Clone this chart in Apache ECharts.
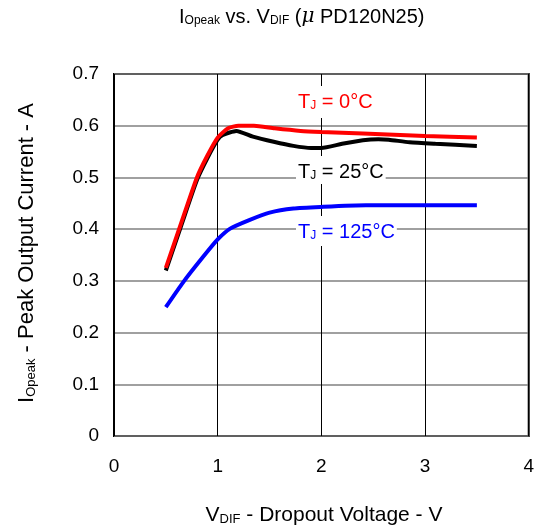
<!DOCTYPE html>
<html>
<head>
<meta charset="utf-8">
<script src="https://cdn.jsdelivr.net/npm/echarts@6/dist/echarts.min.js"></script>
<style>html,body{margin:0;padding:0;background:#fff;}#c{width:537px;height:525px;}</style>
</head>
<body>
<div id="c"></div>
<script>
// Data (V_DIF in V, I_Opeak in A)
var xRed   = [0.5, 0.65, 0.8, 0.9, 1.0, 1.1, 1.2, 1.35, 1.55, 1.8, 2.0, 2.4, 3.0, 3.5];
var yRed   = [0.325, 0.413, 0.500, 0.542, 0.577, 0.595, 0.600, 0.600, 0.595, 0.590, 0.588, 0.585, 0.580, 0.577];
var xBlack = [0.5, 0.65, 0.8, 0.9, 1.0, 1.05, 1.18, 1.34, 1.54, 1.73, 1.9, 2.0, 2.2, 2.4, 2.55, 2.65, 2.85, 3.1, 3.5];
var yBlack = [0.320, 0.408, 0.495, 0.537, 0.573, 0.582, 0.590, 0.579, 0.569, 0.561, 0.557, 0.557, 0.565, 0.572, 0.574, 0.573, 0.568, 0.565, 0.561];
var xBlue  = [0.5, 0.67, 0.85, 1.0, 1.12, 1.31, 1.5, 1.73, 2.0, 2.43, 3.0, 3.5];
var yBlue  = [0.249, 0.298, 0.344, 0.380, 0.401, 0.418, 0.432, 0.440, 0.443, 0.446, 0.446, 0.446];
var xTicks = [0, 1, 2, 3, 4];
var yTicks = [0, 0.1, 0.2, 0.3, 0.4, 0.5, 0.6, 0.7];

function pairs(xs, ys) { return xs.map(function (x, i) { return [x, ys[i]]; }); }

var FONT = '"Liberation Sans", Arial, sans-serif';
var chart = echarts.init(document.getElementById('c'), null, {renderer: 'canvas'});

function richSet(size, sub, color) {
  return {
    m: {fontSize: size, fontFamily: FONT, fill: color, color: color, lineHeight: size + 4, verticalAlign: 'bottom'},
    s: {fontSize: sub, fontFamily: FONT, fill: color, color: color, lineHeight: sub, verticalAlign: 'bottom'},
    g: {fontSize: size, fontFamily: '"DejaVu Serif", serif', fontStyle: 'italic', fill: color, color: color, lineHeight: size + 4, verticalAlign: 'bottom'}
  };
}

var option = {
  animation: false,
  backgroundColor: '#ffffff',
  grid: {left: 114, right: 8, top: 74, bottom: 89, show: true, borderColor: '#000', borderWidth: 2, backgroundColor: 'transparent'},
  xAxis: {
    type: 'value', min: xTicks[0], max: xTicks[xTicks.length - 1], interval: 1,
    axisLine: {show: false}, axisTick: {show: false},
    axisLabel: {color: '#000', fontSize: 19, fontFamily: FONT, margin: 21},
    splitLine: {show: true, lineStyle: {color: '#000', width: 1}}
  },
  yAxis: {
    type: 'value', min: yTicks[0], max: yTicks[yTicks.length - 1], interval: 0.1,
    axisLine: {show: false}, axisTick: {show: false},
    axisLabel: {color: '#000', fontSize: 19, fontFamily: FONT, margin: 15,
      formatter: function (v) { return String(Math.round(v * 10) / 10); }},
    splitLine: {show: true, lineStyle: {color: '#808080', width: 1.5}}
  },
  series: [
    {type: 'line', data: pairs(xBlue, yBlue), showSymbol: false, smooth: 0.2,
      lineStyle: {color: '#0000ff', width: 4}, z: 3},
    {type: 'line', data: pairs(xBlack, yBlack), showSymbol: false, smooth: 0.2,
      lineStyle: {color: '#000000', width: 4}, z: 3},
    {type: 'line', data: pairs(xRed, yRed), showSymbol: false, smooth: 0.2,
      lineStyle: {color: '#ff0000', width: 4}, z: 4}
  ],
  graphic: [
    {type: 'text', left: 179, top: 7, z: 10,
      style: {text: '{m|I}{s|Opeak}{m| vs. V}{s|DIF}{m| (}{g|μ}{m| PD120N25)}', rich: richSet(20, 12, '#000')}},
    {type: 'text', x: 25, y: 253, rotation: Math.PI / 2, z: 10,
      style: {text: '{m|I}{s|Opeak}{m| - Peak Output Current - A}', rich: richSet(22, 13, '#000'), align: 'center', verticalAlign: 'middle'}},
    {type: 'text', x: 324, y: 513, z: 10,
      style: {text: '{m|V}{s|DIF}{m| - Dropout Voltage - V}', rich: richSet(21, 13, '#000'), align: 'center', verticalAlign: 'middle'}},
    {type: 'text', left: 296, top: 86, z: 10,
      style: {text: '{m|T}{s|J}{m| = 0°C}', rich: richSet(20, 12, '#ff0000'), backgroundColor: '#fff', padding: [2, 2, 6, 2]}},
    {type: 'text', left: 296, top: 156, z: 10,
      style: {text: '{m|T}{s|J}{m| = 25°C}', rich: richSet(20, 12, '#000'), backgroundColor: '#fff', padding: [2, 2, 2, 2]}},
    {type: 'text', left: 296, top: 216, z: 10,
      style: {text: '{m|T}{s|J}{m| = 125°C}', rich: richSet(20, 12, '#0000ff'), backgroundColor: '#fff', padding: [2, 2, 4, 2]}}
  ]
};
chart.setOption(option);
</script>
</body>
</html>
